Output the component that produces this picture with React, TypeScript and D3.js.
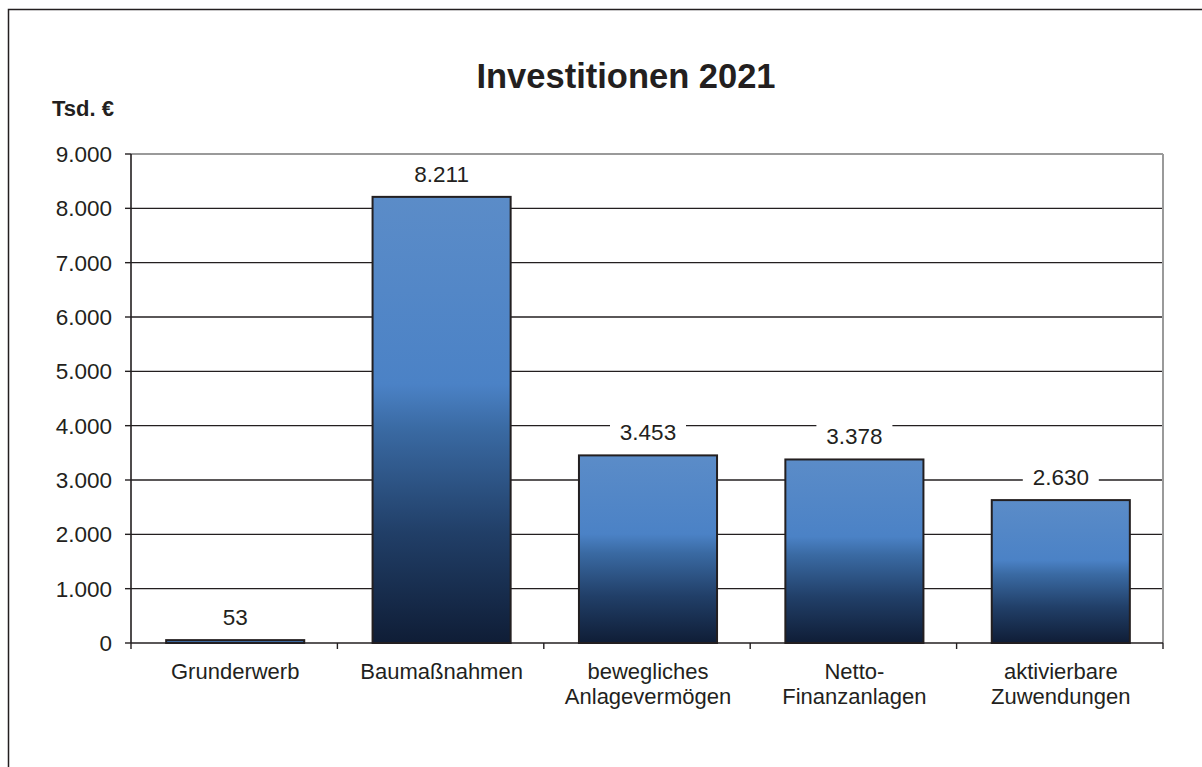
import React from "react";
import * as d3 from "d3";

const categories: string[][] = [
  ["Grunderwerb"],
  ["Baumaßnahmen"],
  ["bewegliches", "Anlagevermögen"],
  ["Netto-", "Finanzanlagen"],
  ["aktivierbare", "Zuwendungen"],
];
const values: number[] = [53, 8211, 3453, 3378, 2630];
const yTicks: number[] = [0, 1000, 2000, 3000, 4000, 5000, 6000, 7000, 8000, 9000];
const title = "Investitionen 2021";
const unitLabel = "Tsd. €";

const fmt = (v: number) => d3.format(",")(v).replace(/,/g, ".");

export default function App() {
  const W = 1202, H = 767;
  const left = 131, right = 1163, top = 154, bottom = 643;
  const keys = categories.map((c) => c.join(" "));
  const x = d3.scaleBand<string>().domain(keys).range([left + 1, right + 1]).paddingInner(0.331).paddingOuter(0.1655);
  const xc = d3.scaleBand<string>().domain(keys).range([left, right]);
  const y = d3.scaleLinear().domain([0, 9000]).range([bottom, top]);
  const font = "Arial, 'Liberation Sans', Helvetica, sans-serif";
  const dark = "#231f20";

  return (
    <svg width={W} height={H} style={{ position: "absolute", left: 0, top: 0, background: "#fff" }} fontFamily={font}>
      <defs>
        <linearGradient id="barGrad" x1="0" y1="0" x2="0" y2="1">
          <stop offset="0%" stopColor="#5b8cc8" />
          <stop offset="42%" stopColor="#4b82c6" />
          <stop offset="52%" stopColor="#3a6aa3" />
          <stop offset="75%" stopColor="#213f68" />
          <stop offset="100%" stopColor="#0f1d36" />
        </linearGradient>
      </defs>
      <rect x={8.5} y={9.5} width={1300} height={900} fill="none" stroke={dark} strokeWidth={1.5} />
      <text x={626} y={88} textAnchor="middle" fontWeight="bold" fontSize={34.5} fill={dark}>{title}</text>
      <text x={52} y={116} fontWeight="bold" fontSize={22} fill={dark}>{unitLabel}</text>

      {/* gridlines */}
      {yTicks.filter((t) => t > 0 && t < 9000).map((t) => (
        <line key={t} x1={left} x2={right} y1={y(t)} y2={y(t)} stroke={dark} strokeWidth={1.4} />
      ))}
      <line x1={left} x2={right} y1={top} y2={top} stroke="#9a9a9a" strokeWidth={2} />
      <line x1={right} x2={right} y1={top} y2={bottom} stroke="#9a9a9a" strokeWidth={2} />

      {/* y ticks & labels */}
      {yTicks.map((t) => (
        <g key={t}>
          <line x1={left - 6} x2={left} y1={y(t)} y2={y(t)} stroke={dark} strokeWidth={1.4} />
          <text x={112} y={y(t)} dy="0.36em" textAnchor="end" fontSize={22.5} fill={dark}>{fmt(t)}</text>
        </g>
      ))}

      {/* bars */}
      {keys.map((k, i) => (
        <rect key={k} x={x(k)} y={y(values[i])} width={x.bandwidth()} height={bottom - y(values[i])}
          fill="url(#barGrad)" stroke={dark} strokeWidth={2} />
      ))}

      {/* axes */}
      <line x1={left} x2={left} y1={top} y2={bottom} stroke={dark} strokeWidth={1.6} />
      <line x1={left} x2={right} y1={bottom} y2={bottom} stroke={dark} strokeWidth={1.6} />
      {keys.map((k) => (
        <line key={k} x1={xc(k)!} x2={xc(k)!} y1={bottom} y2={bottom + 6} stroke={dark} strokeWidth={1.4} />
      ))}
      <line x1={right} x2={right} y1={bottom} y2={bottom + 6} stroke={dark} strokeWidth={1.4} />

      {/* data labels */}
      {keys.map((k, i) => {
        const cx = x(k)! + x.bandwidth() / 2;
        const by = y(values[i]) - 15;
        const label = fmt(values[i]);
        const w = label.length * 12 + 16;
        return (
          <g key={k}>
            <rect x={cx - w / 2} y={by - 20} width={w} height={26} fill="#fff" />
            <text x={cx} y={by} textAnchor="middle" fontSize={22.5} fill={dark}>{label}</text>
          </g>
        );
      })}

      {/* x labels */}
      {categories.map((c, i) => (
        <text key={keys[i]} x={xc(keys[i])! + xc.bandwidth() / 2 + 1} y={679} textAnchor="middle" fontSize={22} fill={dark}>
          {c.map((line, j) => (
            <tspan key={j} x={xc(keys[i])! + xc.bandwidth() / 2 + 1} dy={j === 0 ? 0 : 25}>{line}</tspan>
          ))}
        </text>
      ))}
    </svg>
  );
}
